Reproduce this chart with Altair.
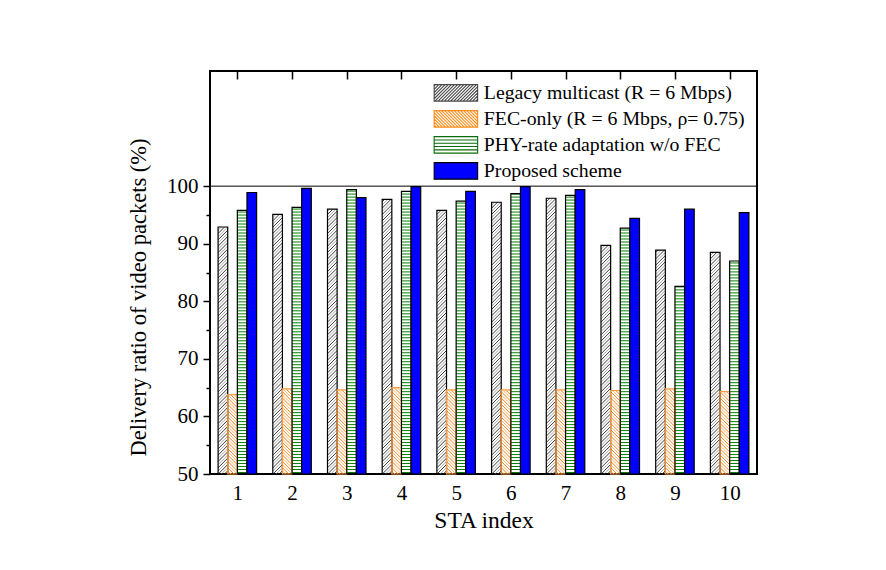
import altair as alt
import pandas as pd

# ---------------- data ----------------
sta_index = list(range(1, 11))
series_names = [
    "Legacy multicast (R = 6 Mbps)",
    "FEC-only (R = 6 Mbps, ρ= 0.75)",
    "PHY-rate adaptation w/o FEC",
    "Proposed scheme",
]
legacy = [92.9, 95.1, 96.0, 97.7, 95.8, 97.2, 97.9, 89.7, 88.9, 88.5]
fec_only = [63.8, 64.8, 64.6, 65.0, 64.6, 64.6, 64.6, 64.5, 64.8, 64.3]
phy_rate = [95.8, 96.3, 99.4, 99.1, 97.4, 98.7, 98.4, 92.7, 82.6, 87.0]
proposed = [98.9, 99.6, 98.0, 99.9, 99.1, 99.9, 99.4, 94.4, 96.0, 95.4]
y_ticks = [50, 60, 70, 80, 90, 100]
y_minor = [55, 65, 75, 85, 95]

all_values = [legacy, fec_only, phy_rate, proposed]
rows = []
for k, name in enumerate(series_names):
    for s, v in zip(sta_index, all_values[k]):
        rows.append({"sta": s, "series": name, "idx": k, "value": v})
df = pd.DataFrame(rows)

# ---------------- geometry / style ----------------
FONT = "Liberation Serif"
W, HGT = 547, 403
XDOM = [0.5, 10.5]
YDOM = [50, 120]
BW = 0.176                              # bar width in x units
PXX = W / (XDOM[1] - XDOM[0])
PXY = HGT / (YDOM[1] - YDOM[0])
H = BW * PXX / PXY                      # rise (y units) of a 45 deg line across one bar
S_DIAG = 0.55
S_HOR = 0.52

xscale = alt.Scale(domain=XDOM, nice=False, zero=False)
yscale = alt.Scale(domain=YDOM, nice=False, zero=False)

xl_expr = f"datum.sta - {2 * BW} + datum.idx * {BW}"
xr_expr = f"datum.sta - {2 * BW} + (datum.idx + 1) * {BW}"

base = alt.Chart(df)

bottom_axis = alt.Axis(orient="bottom", values=sta_index, format="d", tickSize=0,
                       domain=False, grid=False, labelFontSize=21, labelPadding=8,
                       labelColor="black", title="STA index", titleFontSize=23.5,
                       titleFontWeight="normal", titleColor="black", titlePadding=5)
left_axis = alt.Axis(orient="left", values=y_ticks, tickSize=7, tickWidth=1.5,
                     tickColor="black", domain=False, grid=False, labelFontSize=21,
                     labelPadding=5, labelColor="black",
                     title="Delivery ratio of video packets (%)", titleFontSize=22.5,
                     titleFontWeight="normal", titleColor="black", titlePadding=16,
                     titleY=226)
top_axis = alt.Axis(orient="top", values=sta_index, tickSize=8, offset=-8, tickWidth=1.5,
                    tickColor="black", labels=False, domain=False, grid=False, title=None)
minor_axis = alt.Axis(orient="left", values=y_minor, tickSize=4, tickWidth=1.5,
                      tickColor="black", labels=False, domain=False, grid=False, title=None)

# legacy "/" hatch
legacy_hatch = (
    base.transform_filter("datum.idx == 0")
    .transform_calculate(xl=xl_expr, xr=xr_expr,
                         seq=f"sequence(50 - {H}, datum.value, {S_DIAG})")
    .transform_flatten(["seq"])
    .transform_calculate(t0=f"max(0, (50 - datum.seq) / {H})",
                         t1=f"min(1, (datum.value - datum.seq) / {H})")
    .transform_filter("datum.t1 > datum.t0")
    .transform_calculate(xa="datum.xl + datum.t0 * (datum.xr - datum.xl)",
                         ya=f"datum.seq + datum.t0 * {H}",
                         xb="datum.xl + datum.t1 * (datum.xr - datum.xl)",
                         yb=f"datum.seq + datum.t1 * {H}",
                         par=f"round((datum.seq - 50) / {S_DIAG}) % 2")
    .mark_rule(strokeWidth=1)
    .encode(x=alt.X("xa:Q", scale=xscale, axis=bottom_axis),
            x2="xb:Q",
            y=alt.Y("ya:Q", scale=yscale, axis=left_axis),
            y2="yb:Q",
            color=alt.condition("datum.par == 0", alt.value("#3a3a3a"), alt.value("#ababab")))
)

# FEC "\" hatch
fec_hatch = (
    base.transform_filter("datum.idx == 1")
    .transform_calculate(xl=xl_expr, xr=xr_expr,
                         seq=f"sequence(50, datum.value + {H}, {S_DIAG})")
    .transform_flatten(["seq"])
    .transform_calculate(t0=f"max(0, (datum.seq - datum.value) / {H})",
                         t1=f"min(1, (datum.seq - 50) / {H})")
    .transform_filter("datum.t1 > datum.t0")
    .transform_calculate(xa="datum.xl + datum.t0 * (datum.xr - datum.xl)",
                         ya=f"datum.seq - datum.t0 * {H}",
                         xb="datum.xl + datum.t1 * (datum.xr - datum.xl)",
                         yb=f"datum.seq - datum.t1 * {H}",
                         par=f"round((datum.seq - 50) / {S_DIAG}) % 2")
    .mark_rule(strokeWidth=1)
    .encode(x=alt.X("xa:Q", scale=xscale, axis=None),
            x2="xb:Q",
            y=alt.Y("ya:Q", scale=yscale, axis=None),
            y2="yb:Q",
            color=alt.condition("datum.par == 0", alt.value("#FF7F0E"), alt.value("#FFB878")))
)

# PHY horizontal green lines
phy_hatch = (
    base.transform_filter("datum.idx == 2")
    .transform_calculate(xl=xl_expr, xr=xr_expr,
                         seq=f"sequence(50 + {S_HOR / 2}, datum.value, {S_HOR})")
    .transform_flatten(["seq"])
    .mark_rule(strokeWidth=1, color="#008000")
    .encode(x=alt.X("xl:Q", scale=xscale, axis=None),
            x2="xr:Q",
            y=alt.Y("seq:Q", scale=yscale, axis=None))
)

# legend symbol paths (unit box: x in [-LW, LW], y in [-1, 1])
LW = 43.5 / 16.5


def fmt(v):
    return f"{v:.3f}"


def hatch_fwd(step):
    parts = []
    c = -LW - 1 + step / 2
    while c < LW + 1:
        x1 = max(-LW, c - 1)
        x2 = min(LW, c + 1)
        if x2 > x1:
            parts.append(f"M{fmt(x1)},{fmt(c - x1)}L{fmt(x2)},{fmt(c - x2)}")
        c += step
    return "".join(parts)


def hatch_back(step):
    parts = []
    c = -LW - 1 + step / 2
    while c < LW + 1:
        x1 = max(-LW, -1 - c)
        x2 = min(LW, 1 - c)
        if x2 > x1:
            parts.append(f"M{fmt(x1)},{fmt(x1 + c)}L{fmt(x2)},{fmt(x2 + c)}")
        c += step
    return "".join(parts)


def hatch_h():
    return "".join(f"M{fmt(-LW)},{fmt(y)}L{fmt(LW)},{fmt(y)}" for y in [-0.6, -0.2, 0.2, 0.6])


rect_path = f"M{fmt(-LW)},-1L{fmt(LW)},-1L{fmt(LW)},1L{fmt(-LW)},1Z"
SYM = 16.5 ** 2
LEG_X, LEG_Y = 236, 12
LEG_FS = 19.8

legend_one = alt.Legend(title=None, orient="none", legendX=LEG_X, legendY=LEG_Y,
                        symbolSize=SYM, symbolStrokeWidth=1.1, symbolOpacity=1,
                        labelFontSize=LEG_FS, labelFont=FONT, labelColor="black",
                        labelOffset=18, rowPadding=4, padding=0, labelLimit=400)

legend_points = (
    base.mark_point(opacity=0, size=SYM, strokeWidth=1.1)
    .transform_calculate(xl=xl_expr)
    .encode(x=alt.X("xl:Q", scale=xscale, axis=None),
            y=alt.Y("value:Q", scale=yscale, axis=None),
            shape=alt.Shape("series:N",
                            scale=alt.Scale(domain=series_names,
                                            range=[rect_path + hatch_fwd(0.38),
                                                   rect_path + hatch_back(0.38),
                                                   rect_path + hatch_h(),
                                                   rect_path]),
                            legend=legend_one),
            stroke=alt.Stroke("series:N",
                              scale=alt.Scale(domain=series_names,
                                              range=["#4a4a4a", "#FF8C1A", "#0A6E0A", "black"]),
                              legend=legend_one),
            fill=alt.Fill("series:N",
                          scale=alt.Scale(domain=series_names,
                                          range=["transparent", "transparent", "transparent", "#0000FF"]),
                          legend=legend_one))
)

# bars (outline + blue fill)
bars = (
    base.transform_calculate(xl=xl_expr, xr=xr_expr)
    .mark_bar(strokeWidth=1.2)
    .encode(x=alt.X("xl:Q", scale=xscale, axis=top_axis),
            x2="xr:Q",
            y=alt.Y("value:Q", scale=yscale, axis=minor_axis),
            y2=alt.datum(50),
            fill=alt.condition("datum.idx == 3", alt.value("#0000FF"), alt.value("transparent")),
            stroke=alt.condition("datum.idx == 1", alt.value("#FF9A3C"), alt.value("black")))
)

line100 = alt.Chart(pd.DataFrame({"ref": [100]})).mark_rule(color="black", strokeWidth=1).encode(
    y=alt.Y("ref:Q", scale=yscale, axis=None))

chart = (
    alt.layer(legacy_hatch, fec_hatch, phy_hatch, bars, line100, legend_points)
    .resolve_axis(x="independent", y="independent")
    .properties(width=W, height=HGT, autosize=alt.AutoSizeParams(type="none"),
                padding={"left": 202, "top": 63, "right": 50, "bottom": 80})
    .configure_view(stroke="black", strokeWidth=2)
    .configure_axis(labelFont=FONT, titleFont=FONT)
    .configure_legend(labelFont=FONT)
)

chart.save("out.html", embed_options={"renderer": "svg", "actions": False})
